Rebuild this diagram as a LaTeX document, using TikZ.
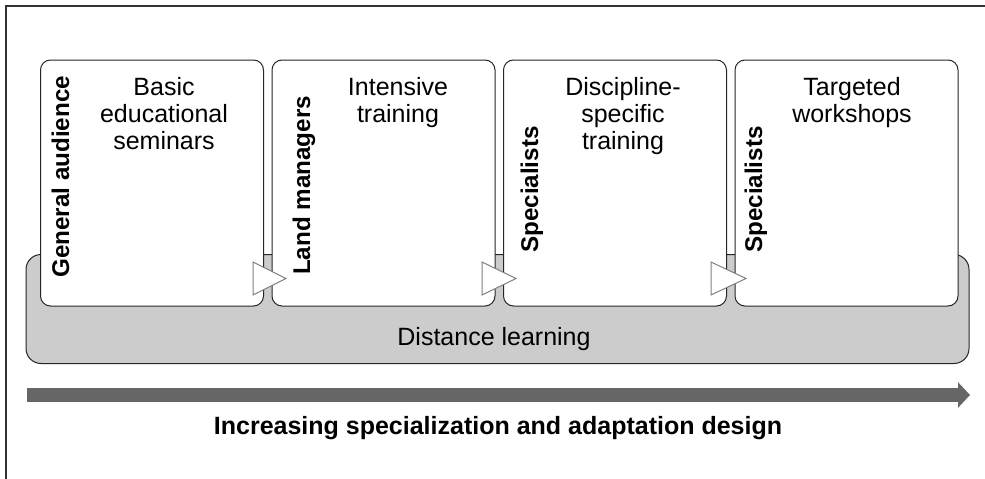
\documentclass[tikz,border=0pt]{standalone}
\usepackage{fontspec}
\setmainfont{Liberation Sans}
\usepackage{tikz}
\usetikzlibrary{arrows.meta,positioning}
\definecolor{panelgray}{HTML}{CCCCCC}
\definecolor{arrowgray}{HTML}{666666}
\definecolor{markgray}{HTML}{808080}
\tikzset{
  stage/.style={draw=black!85,fill=white,rounded corners=10pt,line width=1pt,
    minimum width=223pt,minimum height=246pt,inner sep=0pt},
  panel/.style={draw=black!85,fill=panelgray,rounded corners=15pt,line width=1pt,
    minimum width=943pt,minimum height=109pt,inner sep=0pt},
  audience/.style={rotate=90,anchor=base west,inner sep=0pt,font=\fontsize{24.2}{27}\selectfont\bfseries},
  stagetext/.style={anchor=north,align=center,inner sep=0pt,font=\fontsize{25}{27}\selectfont},
  stepmark/.style={draw=markgray,fill=white,line width=1pt,line join=miter},
  bigarrow/.style={draw=arrowgray,line width=14pt,-{Triangle[length=12pt,width=25pt]}}
}
\begin{document}
\begin{tikzpicture}[x=1pt,y=-1pt]
  \useasboundingbox (0,0) rectangle (985,479);
  % frame
  \draw[line width=1.3pt,black!80] (6,479) -- (6,6) -- (985,6);
  % distance learning panel
  \node[panel] (dl) at (497.5,309) {};
  \node[anchor=base,inner sep=0pt,font=\fontsize{25}{27}\selectfont] (dltext) at (494,345) {Distance learning};
  % stages
  \node[stage] (b1) at (152,183) {};
  \node[stage] (b2) at (383.5,183) {};
  \node[stage] (b3) at (615,183) {};
  \node[stage] (b4) at (846.5,183) {};
  \node[stagetext] (t1) at (164,77) {Basic\\educational\\seminars};
  \node[stagetext] (t2) at (398,77) {Intensive\\training};
  \node[stagetext] (t3) at (623,77) {Discipline-\\specific\\training};
  \node[stagetext] (t4) at (852,77) {Targeted\\workshops};
  \node[audience] (a1) at (69,278) {General audience};
  \node[audience] (a2) at (310,275) {Land managers};
  \node[audience] (a3) at (538,253) {Specialists};
  \node[audience] (a4) at (762,253) {Specialists};
  % step marks
  \draw[stepmark] (253,262) -- (286,278.5) -- (253,295) -- cycle;
  \draw[stepmark] (482,262) -- (516,278.5) -- (482,295) -- cycle;
  \draw[stepmark] (711,262) -- (746,278.5) -- (711,295) -- cycle;
  % specialization arrow
  \coordinate (s0) at (27,395);
  \coordinate (s1) at (970,395);
  \draw[bigarrow] (s0) -- (s1);
  \node[anchor=base,inner sep=0pt,font=\fontsize{25}{27}\selectfont\bfseries] (cap) at (498,434)
    {Increasing specialization and adaptation design};
\end{tikzpicture}
\end{document}
